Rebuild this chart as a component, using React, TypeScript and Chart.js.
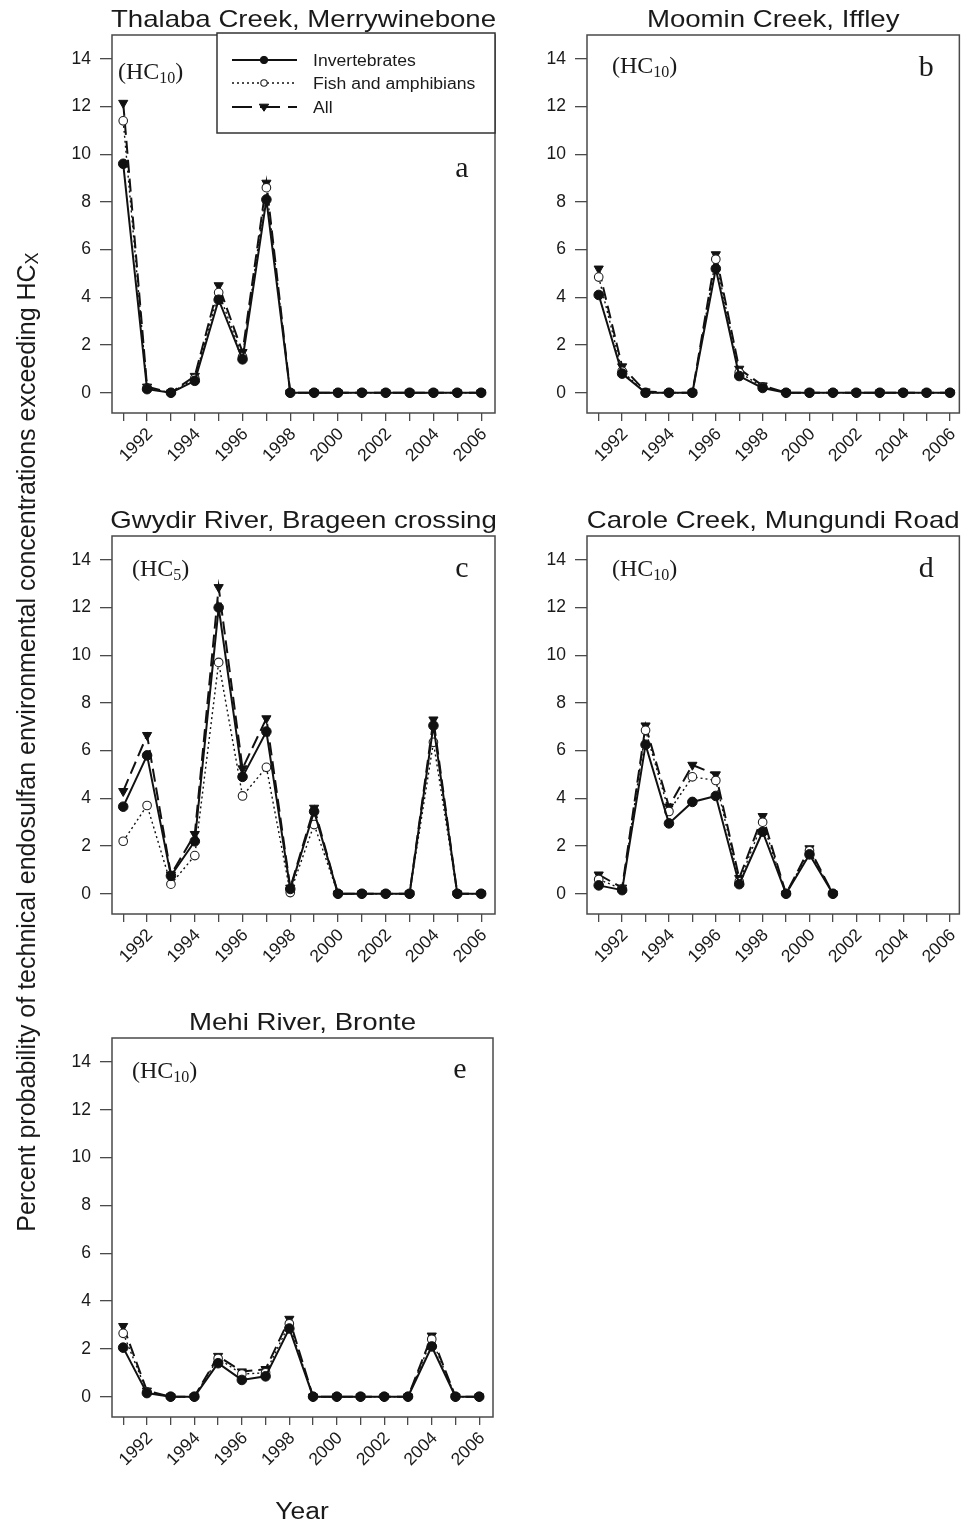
import React, { useEffect, useRef } from "react";
import { Chart, registerables } from "chart.js";

Chart.register(...registerables);

// ---- data ----
const years = [1991, 1992, 1993, 1994, 1995, 1996, 1997, 1998, 1999, 2000, 2001, 2002, 2003, 2004, 2005, 2006];
const yTickValues = [0, 2, 4, 6, 8, 10, 12, 14];
const labelledYears = [1992, 1994, 1996, 1998, 2000, 2002, 2004, 2006];
const seriesNames = ["Invertebrates", "Fish and amphibians", "All"];

// Thalaba Creek, Merrywinebone (HC10)
const thalabaInv = [9.6, 0.15, 0, 0.5, 3.9, 1.4, 8.1, 0, 0, 0, 0, 0, 0, 0, 0, 0];
const thalabaFish = [11.4, 0.2, 0, 0.6, 4.2, 1.5, 8.6, 0, 0, 0, 0, 0, 0, 0, 0, 0];
const thalabaAll = [12.15, 0.25, 0, 0.7, 4.5, 1.7, 8.8, 0, 0, 0, 0, 0, 0, 0, 0, 0];

// Moomin Creek, Iffley (HC10)
const moominInv = [4.1, 0.8, 0, 0, 0, 5.2, 0.7, 0.2, 0, 0, 0, 0, 0, 0, 0, 0];
const moominFish = [4.85, 0.9, 0, 0, 0, 5.6, 0.85, 0.25, 0, 0, 0, 0, 0, 0, 0, 0];
const moominAll = [5.2, 1.1, 0.05, 0, 0, 5.8, 1.0, 0.3, 0, 0, 0, 0, 0, 0, 0, 0];

// Gwydir River, Brageen crossing (HC5)
const gwydirInv = [3.65, 5.8, 0.75, 2.2, 12.0, 4.9, 6.8, 0.2, 3.45, 0, 0, 0, 0, 7.05, 0, 0];
const gwydirFish = [2.2, 3.7, 0.4, 1.6, 9.7, 4.1, 5.3, 0.05, 2.9, 0, 0, 0, 0, 6.35, 0, 0];
const gwydirAll = [4.3, 6.65, 0.8, 2.5, 12.85, 5.25, 7.35, 0.25, 3.6, 0, 0, 0, 0, 7.3, 0, 0];

// Carole Creek, Mungundi Road (HC10) - no data after 2001
const caroleInv = [0.35, 0.15, 6.25, 2.95, 3.85, 4.1, 0.4, 2.6, 0, 1.65, 0, null, null, null, null, null];
const caroleFish = [0.6, 0.2, 6.85, 3.45, 4.9, 4.75, 0.5, 3.0, 0, 1.8, 0, null, null, null, null, null];
const caroleAll = [0.8, 0.25, 7.05, 3.65, 5.4, 5.0, 0.65, 3.25, 0, 1.9, 0, null, null, null, null, null];

// Mehi River, Bronte (HC10)
const mehiInv = [2.05, 0.15, 0, 0, 1.4, 0.7, 0.85, 2.85, 0, 0, 0, 0, 0, 2.1, 0, 0];
const mehiFish = [2.65, 0.2, 0, 0, 1.6, 0.95, 1.0, 3.05, 0, 0, 0, 0, 0, 2.4, 0, 0];
const mehiAll = [2.95, 0.25, 0, 0, 1.7, 1.05, 1.15, 3.25, 0, 0, 0, 0, 0, 2.55, 0, 0];

// ---- styling ----
const SANS = "'Liberation Sans', Arial, Helvetica, sans-serif";
const SERIF = "'Liberation Serif', 'Times New Roman', Times, serif";
const TEXT = "#1a1a1a";
const FRAME = "#4a4a4a";

type Vals = (number | null)[];

const seriesStyles = [
  { borderWidth: 2, borderDash: [] as number[], pointStyle: "circle", radius: 4.8, bg: "#111", border: "#111", pbw: 1, rotation: 0 },
  { borderWidth: 1.4, borderDash: [2, 3], pointStyle: "circle", radius: 4.3, bg: "#ffffff", border: "#222", pbw: 1.1, rotation: 0 },
  { borderWidth: 2, borderDash: [13, 6], pointStyle: "triangle", radius: 5.3, bg: "#111", border: "#111", pbw: 1, rotation: 180 },
];

function toPoints(vals: Vals) {
  const pts: { x: number; y: number }[] = [];
  vals.forEach((v, i) => {
    if (v !== null) pts.push({ x: years[i], y: v });
  });
  return pts;
}

type PanelSpec = {
  title: string;
  hc: string;
  letter: string;
  inv: Vals;
  fish: Vals;
  all: Vals;
  left: number;
  top: number;
  w: number;
  h: number;
  yW: number;
  xH: number;
  padTop: number;
  padRight: number;
  xMin: number;
  xMax: number;
  legend: boolean;
  hcDx: number;
  hcDy: number;
  letterDy: number;
};

const colA = { left: 40, w: 465, yW: 72, padRight: 10, xMin: 1990.53, xMax: 2006.58 };
const colB = { left: 520, w: 448, yW: 67, padRight: 4, xMin: 1990.5, xMax: 2006.4 };

const panels: PanelSpec[] = [
  { title: "Thalaba Creek, Merrywinebone", hc: "10", letter: "a", inv: thalabaInv, fish: thalabaFish, all: thalabaAll,
    ...colA, top: 0, h: 500, xH: 87, padTop: 35, legend: true, hcDx: 6, hcDy: 44, letterDy: 142 },
  { title: "Moomin Creek, Iffley", hc: "10", letter: "b", inv: moominInv, fish: moominFish, all: moominAll,
    ...colB, top: 0, h: 500, xH: 87, padTop: 35, legend: false, hcDx: 25, hcDy: 38, letterDy: 41 },
  { title: "Gwydir River, Brageen crossing", hc: "5", letter: "c", inv: gwydirInv, fish: gwydirFish, all: gwydirAll,
    ...colA, top: 500, h: 500, xH: 86, padTop: 36, legend: false, hcDx: 20, hcDy: 40, letterDy: 41 },
  { title: "Carole Creek, Mungundi Road", hc: "10", letter: "d", inv: caroleInv, fish: caroleFish, all: caroleAll,
    ...colB, top: 500, h: 500, xH: 86, padTop: 36, legend: false, hcDx: 25, hcDy: 40, letterDy: 41 },
  { title: "Mehi River, Bronte", hc: "10", letter: "e", inv: mehiInv, fish: mehiFish, all: mehiAll,
    ...colA, top: 1000, h: 500, xH: 83, padTop: 38, padRight: 12, legend: false, hcDx: 20, hcDy: 40, letterDy: 40 },
];

function scaledText(ctx: CanvasRenderingContext2D, text: string, x: number, y: number, font: string, align: CanvasTextAlign, sx: number) {
  ctx.save();
  ctx.translate(x, y);
  ctx.scale(sx, 1);
  ctx.font = font;
  ctx.textAlign = align;
  ctx.textBaseline = "alphabetic";
  ctx.fillStyle = TEXT;
  ctx.fillText(text, 0, 0);
  ctx.restore();
}

function drawMarker(ctx: CanvasRenderingContext2D, s: (typeof seriesStyles)[number], x: number, y: number) {
  ctx.save();
  ctx.fillStyle = s.bg;
  ctx.strokeStyle = s.border;
  ctx.lineWidth = s.pbw;
  ctx.setLineDash([]);
  ctx.beginPath();
  if (s.pointStyle === "triangle") {
    const r = s.radius;
    ctx.moveTo(x - r, y - r * 0.6);
    ctx.lineTo(x + r, y - r * 0.6);
    ctx.lineTo(x, y + r * 0.9);
    ctx.closePath();
  } else {
    ctx.arc(x, y, s.radius - 0.5, 0, Math.PI * 2);
  }
  ctx.fill();
  ctx.stroke();
  ctx.restore();
}

// frame, title, HC label, panel letter and legend
const panelDecor = {
  id: "panelDecor",
  afterDraw(chart: any) {
    const spec: PanelSpec = chart.options.plugins.panelDecor.spec;
    const ctx: CanvasRenderingContext2D = chart.ctx;
    const a = chart.chartArea;
    ctx.save();
    ctx.strokeStyle = FRAME;
    ctx.lineWidth = 1.5;
    ctx.setLineDash([]);
    ctx.strokeRect(a.left, a.top, a.right - a.left, a.bottom - a.top);
    ctx.restore();

    // title
    scaledText(ctx, spec.title, (a.left + a.right) / 2, a.top - 8, `24px ${SANS}`, "center", 1.15);

    // (HCx)
    ctx.save();
    ctx.fillStyle = TEXT;
    ctx.textBaseline = "alphabetic";
    ctx.textAlign = "left";
    let x = a.left + spec.hcDx;
    const by = a.top + spec.hcDy;
    ctx.font = `24px ${SERIF}`;
    ctx.fillText("(HC", x, by);
    x += ctx.measureText("(HC").width;
    ctx.font = `16px ${SERIF}`;
    ctx.fillText(spec.hc, x, by + 4);
    x += ctx.measureText(spec.hc).width;
    ctx.font = `24px ${SERIF}`;
    ctx.fillText(")", x, by);
    // panel letter
    ctx.font = `30px ${SERIF}`;
    ctx.textAlign = "center";
    ctx.fillText(spec.letter, a.right - 33, a.top + spec.letterDy);
    ctx.restore();

    if (spec.legend) {
      const bl = a.left + 105;
      const bt = a.top - 2;
      const br = a.right;
      const bb = a.top + 98;
      ctx.save();
      ctx.fillStyle = "#ffffff";
      ctx.fillRect(bl, bt, br - bl, bb - bt);
      ctx.strokeStyle = "#333";
      ctx.lineWidth = 1.5;
      ctx.strokeRect(bl, bt, br - bl, bb - bt);
      ctx.restore();
      const rows = [a.top + 25, a.top + 48, a.top + 72];
      seriesNames.forEach((name, i) => {
        const s = seriesStyles[i];
        const y = rows[i];
        ctx.save();
        ctx.strokeStyle = "#111";
        ctx.lineWidth = s.borderWidth;
        ctx.setLineDash(i === 2 ? [20, 8] : s.borderDash);
        ctx.beginPath();
        ctx.moveTo(bl + 15, y);
        ctx.lineTo(bl + 80, y);
        ctx.stroke();
        ctx.restore();
        drawMarker(ctx, { ...s, radius: s.radius - 0.6 }, bl + 47, y);
        scaledText(ctx, name, bl + 96, y + 6, `16px ${SANS}`, "left", 1.1);
      });
    }
  },
};

function makeConfig(p: PanelSpec): any {
  const sets = [p.inv, p.fish, p.all].map((vals, i) => {
    const s = seriesStyles[i];
    return {
      label: seriesNames[i],
      data: toPoints(vals),
      borderColor: "#111",
      borderWidth: s.borderWidth,
      borderDash: s.borderDash,
      pointStyle: s.pointStyle,
      pointRadius: s.radius,
      pointRotation: s.rotation,
      pointBackgroundColor: s.bg,
      pointBorderColor: s.border,
      pointBorderWidth: s.pbw,
      tension: 0,
      fill: false,
      spanGaps: false,
    };
  });
  return {
    type: "line",
    data: { datasets: sets },
    plugins: [panelDecor],
    options: {
      animation: false,
      responsive: false,
      maintainAspectRatio: false,
      layout: { padding: { top: p.padTop, right: p.padRight, left: 0, bottom: 0 } },
      plugins: {
        legend: { display: false },
        tooltip: { enabled: false },
        title: { display: false },
        panelDecor: { spec: p },
      },
      scales: {
        x: {
          type: "linear",
          min: p.xMin,
          max: p.xMax,
          afterBuildTicks: (s: any) => {
            s.ticks = years.map((v) => ({ value: v }));
          },
          afterFit: (s: any) => {
            s.height = p.xH;
          },
          grid: { display: true, drawOnChartArea: false, drawTicks: true, tickLength: 8, color: FRAME, lineWidth: 1.3 },
          border: { display: false },
          ticks: {
            autoSkip: false,
            maxRotation: 45,
            minRotation: 45,
            padding: 3,
            labelOffset: 3,
            color: TEXT,
            font: { family: SANS, size: 17.5 },
            callback: (v: number) => (labelledYears.includes(v) ? String(v) : ""),
          },
        },
        y: {
          type: "linear",
          min: -0.85,
          max: 15,
          afterBuildTicks: (s: any) => {
            s.ticks = yTickValues.map((v) => ({ value: v }));
          },
          afterFit: (s: any) => {
            s.width = p.yW;
          },
          grid: { display: true, drawOnChartArea: false, drawTicks: true, tickLength: 12, color: FRAME, lineWidth: 1.3 },
          border: { display: false },
          ticks: {
            padding: 9,
            color: TEXT,
            font: { family: SANS, size: 17.5 },
            callback: (v: number) => String(v),
          },
        },
      },
    },
  };
}

function Panel({ p }: { p: PanelSpec }) {
  const ref = useRef<HTMLCanvasElement>(null);
  useEffect(() => {
    if (!ref.current) return;
    const chart = new Chart(ref.current, makeConfig(p));
    return () => chart.destroy();
  }, [p]);
  return (
    <canvas
      ref={ref}
      width={p.w}
      height={p.h}
      style={{ position: "absolute", left: p.left, top: p.top, width: p.w, height: p.h }}
    />
  );
}

export default function App() {
  return (
    <div style={{ position: "absolute", left: 0, top: 0, width: 968, height: 1526, background: "#ffffff", overflow: "hidden" }}>
      {panels.map((p) => (
        <Panel key={p.letter} p={p} />
      ))}
      <div
        style={{
          position: "absolute",
          left: 26 - 600,
          top: 742 - 18,
          width: 1200,
          height: 36,
          lineHeight: "36px",
          textAlign: "center",
          transform: "rotate(-90deg)",
          fontFamily: SANS,
          fontSize: 25,
          color: TEXT,
          whiteSpace: "nowrap",
        }}
      >
        Percent probability of technical endosulfan environmental concentrations exceeding HC
        <span style={{ fontSize: 18, position: "relative", top: 3 }}>X</span>
      </div>
      <div
        style={{
          position: "absolute",
          left: 302 - 100,
          top: 1498,
          width: 200,
          textAlign: "center",
          fontFamily: SANS,
          fontSize: 23,
          color: TEXT,
          transform: "scaleX(1.15)",
        }}
      >
        Year
      </div>
    </div>
  );
}
